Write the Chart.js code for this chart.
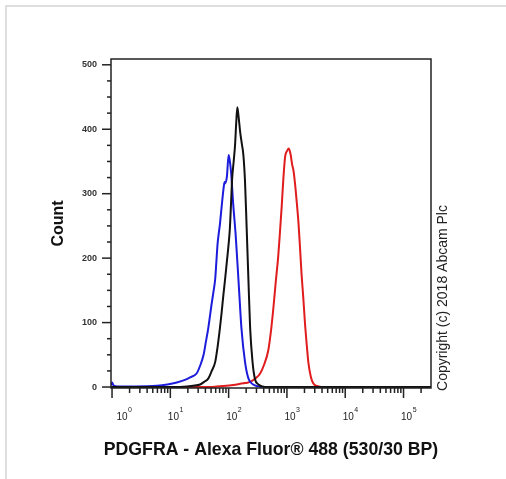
<!DOCTYPE html>
<html>
<head>
<meta charset="utf-8">
<script src="https://cdn.jsdelivr.net/npm/chart.js@4/dist/chart.umd.min.js"></script>
<style>
  html, body { margin: 0; padding: 0; background: #fff; }
  #wrap { width: 506px; height: 479px; position: relative; }
</style>
</head>
<body>
<div id="wrap"><canvas id="c" width="506" height="479"></canvas></div>
<script>
// ---- data (fluorescence intensity vs. count) ----
const blueX = [0.96, 1, 1.07, 1.26, 2.51, 5.89, 8.91, 12.9, 17.8, 21.9, 28.2, 32.4, 37.2, 40.7, 44.7, 51.3, 55.0, 58.9, 61.7, 64.6, 67.6, 70.8, 75.9, 81.3, 85.1, 87.1, 93.3, 100, 105, 110, 120, 132, 148, 166, 191, 219, 263, 324, 398, 296000];
const blueCount = [3, 7, 2, 1, 1, 2, 4, 7, 11, 15, 21, 33, 50, 70, 91, 130, 148, 168, 195, 222, 238, 252, 280, 306, 318, 316, 326, 360, 350, 334, 283, 236, 164, 91, 39, 13, 4, 1, 0, 0];

const blackX = [0.96, 14.1, 17.0, 24.5, 32.4, 38.0, 44.7, 51.3, 58.9, 64.6, 70.8, 75.9, 81.3, 87.1, 93.3, 100, 105, 110, 115, 122, 129, 135, 141, 148, 158, 168, 179, 191, 204, 219, 234, 257, 282, 324, 380, 457, 296000];
const blackCount = [0, 0, 0.5, 2, 4, 8, 13, 25, 39, 62, 91, 116, 143, 168, 195, 222, 246, 285, 324, 350, 376, 410, 434, 420, 395, 378, 360, 319, 246, 164, 91, 39, 13, 4, 1, 0, 0];

const redX = [0.96, 50, 63, 120, 158, 234, 295, 347, 407, 479, 537, 589, 646, 708, 759, 813, 871, 933, 1000, 1070, 1150, 1230, 1290, 1380, 1480, 1580, 1680, 1780, 1910, 2040, 2190, 2340, 2570, 2820, 3160, 3550, 3980, 296000];
const redCount = [0, 0, 1, 3, 5, 8, 14, 21, 35, 57, 90, 125, 165, 202, 240, 280, 325, 358, 366, 370, 362, 345, 337, 315, 285, 254, 215, 176, 138, 99, 65, 37, 16, 6, 2, 1, 0, 0];

// ---- axis ticks / labels ----
const yMajorTicks = [0, 100, 200, 300, 400, 500];
const yMinorTicks = [25, 50, 75, 125, 150, 175, 225, 250, 275, 325, 350, 375, 425, 450, 475];
const xTickExponents = [0, 1, 2, 3, 4, 5];
const xMinorMultipliers = [2, 3, 4, 5, 6, 7, 8, 9];
const xTitle = 'PDGFRA - Alexa Fluor® 488 (530/30 BP)';
const yTitle = 'Count';
const copyrightText = 'Copyright (c) 2018 Abcam Plc';

const FONT = "'Liberation Sans', Arial, Helvetica, sans-serif";
Chart.defaults.font.family = FONT;

function pts(xs, ys) { return xs.map((v, i) => ({ x: v, y: ys[i] })); }

const decor = {
  id: 'decor',
  beforeDraw(chart) {
    const ctx = chart.ctx;
    ctx.save();
    ctx.strokeStyle = '#dedede';
    ctx.lineWidth = 2;
    ctx.beginPath();
    ctx.moveTo(6, 479); ctx.lineTo(6, 6); ctx.lineTo(506, 6);
    ctx.stroke();
    ctx.restore();
  },
  afterDraw(chart) {
    const { ctx, chartArea: a, scales: { x, y } } = chart;
    ctx.save();
    ctx.strokeStyle = '#222';
    ctx.lineWidth = 1.5;
    ctx.strokeRect(a.left, a.top, a.right - a.left, a.bottom - a.top);
    const seg = (x1, y1, x2, y2) => { ctx.beginPath(); ctx.moveTo(x1, y1); ctx.lineTo(x2, y2); ctx.stroke(); };
    // y ticks
    yMinorTicks.forEach(v => { const p = y.getPixelForValue(v); seg(a.left - 4, p, a.left, p); });
    yMajorTicks.forEach(v => { const p = y.getPixelForValue(v); seg(a.left - 9, p, a.left, p); });
    // x ticks
    xTickExponents.forEach(e => {
      const d = Math.pow(10, e);
      const p = x.getPixelForValue(d);
      seg(p, a.bottom, p, a.bottom + 10);
      xMinorMultipliers.forEach(m => {
        const v = d * m;
        if (v < x.max) { const q = x.getPixelForValue(v); seg(q, a.bottom, q, a.bottom + 5); }
      });
    });
    // x tick labels (10 with superscript exponent)
    ctx.fillStyle = '#222';
    ctx.textAlign = 'left';
    ctx.textBaseline = 'alphabetic';
    xTickExponents.forEach(e => {
      const p = x.getPixelForValue(Math.pow(10, e));
      const left = Math.max(p - 2.5, a.left + 5.5);
      ctx.font = '10px ' + FONT;
      ctx.fillText('10', left, a.bottom + 32);
      const w = ctx.measureText('10').width;
      ctx.font = '7px ' + FONT;
      ctx.fillText(String(e), left + w + 0.5, a.bottom + 24);
    });
    // x axis title
    ctx.font = 'bold 17.7px ' + FONT;
    ctx.textAlign = 'center';
    ctx.textBaseline = 'middle';
    ctx.fillStyle = '#111';
    ctx.fillText(xTitle, (a.left + a.right) / 2, a.bottom + 62);
    // copyright (vertical)
    ctx.translate(443, 298);
    ctx.rotate(-Math.PI / 2);
    ctx.font = '14px ' + FONT;
    ctx.textAlign = 'center';
    ctx.textBaseline = 'middle';
    ctx.fillStyle = '#222';
    ctx.fillText(copyrightText, 0, 0);
    ctx.restore();
  }
};

const lineStyle = { borderWidth: 2, pointRadius: 0, fill: false, cubicInterpolationMode: 'monotone' };

new Chart(document.getElementById('c'), {
  type: 'line',
  data: {
    datasets: [
      Object.assign({ label: 'Unlabelled', data: pts(blackX, blackCount), borderColor: '#111111' }, lineStyle),
      Object.assign({ label: 'Isotype control', data: pts(blueX, blueCount), borderColor: '#1c1cdc' }, lineStyle),
      Object.assign({ label: 'PDGFRA', data: pts(redX, redCount), borderColor: '#e01c1c' }, lineStyle)
    ]
  },
  options: {
    responsive: false,
    animation: false,
    devicePixelRatio: 1,
    layout: { padding: { left: 0, top: 59, right: 75, bottom: 0 } },
    plugins: { legend: { display: false }, tooltip: { enabled: false } },
    scales: {
      x: {
        type: 'logarithmic',
        min: 0.96,
        max: 296000,
        grid: { display: false, drawTicks: false },
        border: { display: false },
        ticks: { display: false },
        afterFit(s) { s.height = 91; }
      },
      y: {
        min: -1.5,
        max: 509,
        afterBuildTicks(s) { s.ticks = yMajorTicks.map(v => ({ value: v })); },
        ticks: { color: '#333', font: { size: 9, weight: 'bold' }, padding: 14, autoSkip: false },
        grid: { display: false, drawTicks: false },
        border: { display: false },
        afterFit(s) { s.width = 111; },
        title: { display: true, text: yTitle, color: '#111', font: { size: 16, weight: 'bold' }, padding: { top: 49, bottom: 0 } }
      }
    }
  },
  plugins: [decor]
});
</script>
</body>
</html>
